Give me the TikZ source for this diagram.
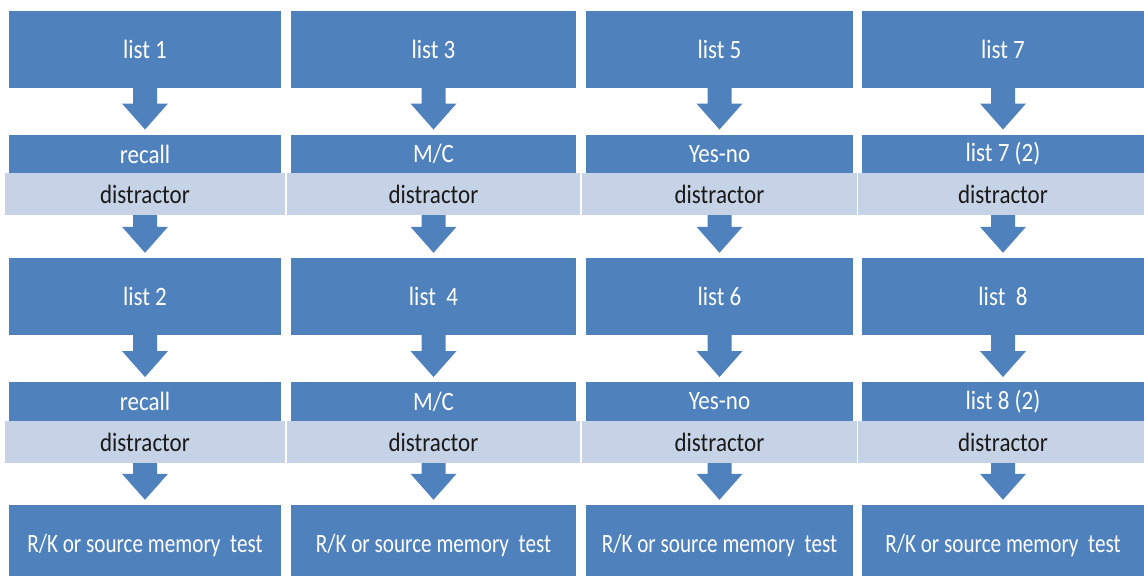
\documentclass[tikz,border=0pt]{standalone}
\usepackage{fontspec}
\usepackage{graphicx}
\setmainfont{Carlito}
\usetikzlibrary{calc}
\definecolor{boxblue}{HTML}{4F81BD}
\definecolor{distfill}{HTML}{C6D2E5}
\definecolor{disttext}{HTML}{1A1A1A}
\newcommand\tx[1]{\scalebox{1}[1.15]{#1}}
\newcommand\txb[1]{\scalebox{0.92}[1.15]{#1}}
\tikzset{
  basebox/.style={inner sep=0pt, font=\fontsize{23}{27}\selectfont},
  bluebig/.style={basebox, fill=boxblue, text=white, minimum height=77pt},
  bluesmall/.style={basebox, fill=boxblue, text=white, minimum height=38.5pt},
  bluebot/.style={basebox, fill=boxblue, text=white, minimum height=80pt},
  distr/.style={basebox, fill=distfill, text=disttext, minimum height=42pt},
  arrowfill/.style={fill=boxblue}
}
\newcommand\blockarrow[2]{%
  \fill[arrowfill] ($(#1.south)+(-12,0)$) -- ($(#2.north)+(-12,-31)$) -- ($(#2.north)+(-23,-31)$)
    -- ($(#2.north)+(0,-5)$) -- ($(#2.north)+(23,-31)$) -- ($(#2.north)+(12,-31)$)
    -- ($(#1.south)+(12,0)$) -- cycle;}
\newcommand\makecol[7]{%
  \node[bluebig, minimum width=#3] (#1a) at (#2,49.5) {\tx{#4}};
  \node[bluesmall, minimum width=#3] (#1b) at (#2,154) {\tx{#5}};
  \node[distr, minimum width=#3+8] (#1c) at (#2,194) {\tx{distractor}};
  \node[bluebig, minimum width=#3] (#1d) at (#2,296.5) {\tx{#6}};
  \node[bluesmall, minimum width=#3] (#1e) at (#2,401.5) {\tx{#7}};
  \node[distr, minimum width=#3+8] (#1f) at (#2,442) {\tx{distractor}};
  \node[bluebot, minimum width=#3] (#1g) at (#2,545) {\txb{R/K or source memory\ \ test}};
  \blockarrow{#1a}{#1b}
  \blockarrow{#1c}{#1d}
  \blockarrow{#1d}{#1e}
  \blockarrow{#1f}{#1g}
}
\begin{document}
\begin{tikzpicture}[x=1pt,y=-1pt]
\useasboundingbox (0,0) rectangle (1144,576);
\clip (0,0) rectangle (1144,576);
\makecol{p}{145}{272}{list 1}{recall}{list 2}{recall}
\makecol{q}{433.5}{285}{list 3}{M/C}{list\ \ 4}{M/C}
\makecol{r}{719.5}{267}{list 5}{Yes-no}{list 6}{Yes-no}
\makecol{s}{1003}{282}{list 7}{list 7 (2)}{list\ \ 8}{list 8 (2)}
\end{tikzpicture}
\end{document}
